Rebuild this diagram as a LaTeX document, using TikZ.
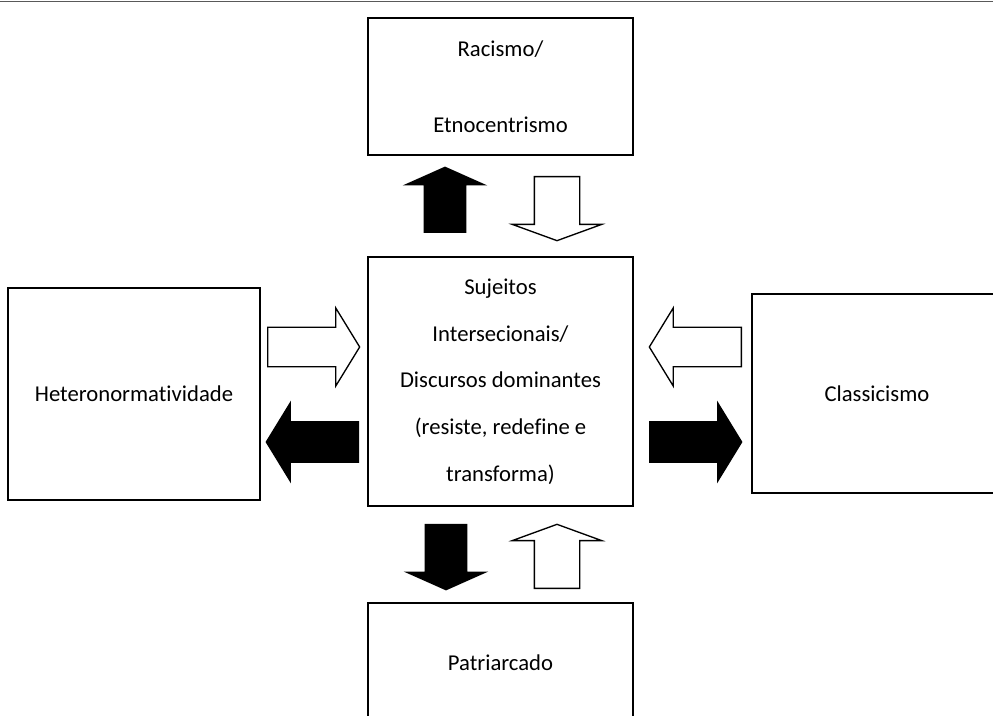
\documentclass[tikz,border=0pt]{standalone}
\usepackage{fontspec}
\setmainfont{Carlito}[Ligatures={NoCommon}]
\usetikzlibrary{shapes,arrows,positioning,calc}

\begin{document}
\begin{tikzpicture}[
		x=0.75pt, y=-0.75pt,
		% Style definitions
		box/.style={
			rectangle,
			draw=black,
			line width=1.1pt,
			align=center,
			inner sep=0pt,
			font=\fontsize{17}{35}\selectfont
		},
		block/.style={
			single arrow,
			draw=black,
			line width=1pt,
			inner sep=0pt,
			anchor=tail
		},
		vblack/.style={block, fill=black,
			minimum height=48.75pt, inner ysep=15pt,
			single arrow head extend=13.9pt, single arrow tip angle=132},
		vwhite/.style={block, fill=white,
			minimum height=48pt, inner ysep=16.5pt,
			single arrow head extend=16.5pt, single arrow tip angle=140},
		hblack/.style={block, fill=black,
			minimum height=69pt, inner ysep=14.6pt,
			single arrow head extend=14.25pt, single arrow tip angle=117},
		hwhite/.style={block, fill=white,
			minimum height=69pt, inner ysep=14.3pt,
			single arrow head extend=14.5pt, single arrow tip angle=117}
		]
		\useasboundingbox (0,0) rectangle (993,716);
		\clip (0,0) rectangle (993,716);
		
		% Page rule
		\draw[black!65, line width=1.3pt] (0,1.5) -- (993,1.5);
		
		% Boxes
		\node[box, minimum width=198.75pt, minimum height=186.75pt] (suj) at (500.5,381.5)
			{Sujeitos\\Intersecionais/\\Discursos dominantes\\(resiste, redefine e\\transforma)};
		\node[box, minimum width=198.75pt, minimum height=102.75pt,
			font=\fontsize{17}{57}\selectfont] (rac) at (500.5,86.5) {Racismo/\\Etnocentrismo};
		\node[box, minimum width=189pt, minimum height=159pt] (het) at (134,394) {Heteronormatividade};
		\node[box, minimum width=187.5pt, minimum height=149.25pt] (cla) at (877,393.5) {Classicismo};
		\node[box, minimum width=198.75pt, minimum height=89.25pt] (pat) at (500.5,662.5) {Patriarcado};
		
		% Block arrows
		\node[vblack, rotate=90] (racOut) at (445,233) {};
		\node[vwhite, rotate=-90] (racIn) at (557,176) {};
		\node[hwhite] (hetIn) at (267,347) {};
		\node[hblack, rotate=180] (hetOut) at (359,442) {};
		\node[hwhite, rotate=180] (claIn) at (742,347) {};
		\node[hblack] (claOut) at (649,442) {};
		\node[vblack, rotate=-90] (patOut) at (446,524) {};
		\node[vwhite, rotate=90] (patIn) at (557,589) {};
		
	\end{tikzpicture}
\end{document}
